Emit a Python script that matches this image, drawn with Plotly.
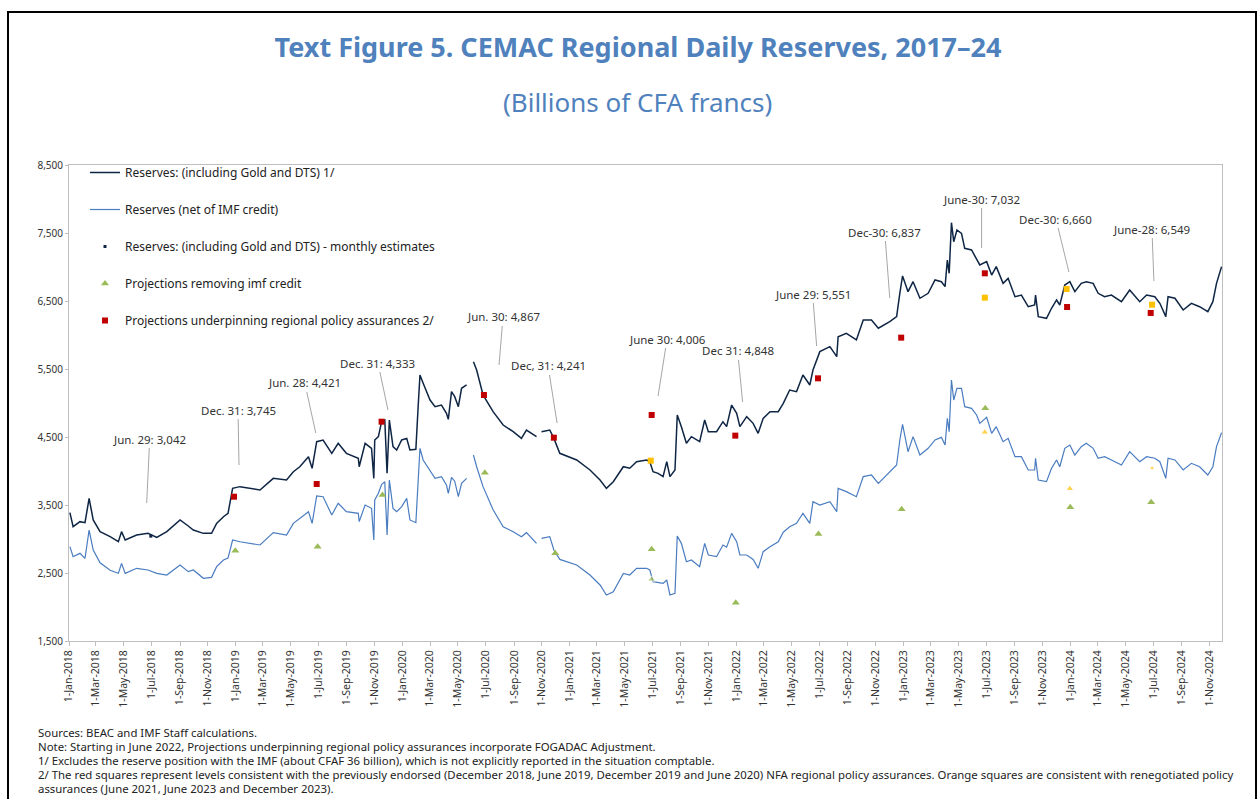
import plotly.graph_objects as go
import pandas as pd

# ---------------- data ----------------
dates = [
    "2018-01-03", "2018-01-10", "2018-01-25", "2018-02-05", "2018-02-14", "2018-02-23",
    "2018-03-10", "2018-04-01", "2018-04-19", "2018-04-26", "2018-05-04", "2018-05-29",
    "2018-06-23", "2018-07-12", "2018-08-03", "2018-09-01", "2018-09-19", "2018-09-30",
    "2018-10-22", "2018-11-09", "2018-11-20", "2018-12-05", "2018-12-15", "2018-12-25",
    "2019-01-10", "2019-02-23", "2019-03-24", "2019-04-22", "2019-05-07", "2019-05-21",
    "2019-06-09", "2019-06-17", "2019-06-27", "2019-07-11", "2019-07-30", "2019-08-13",
    "2019-08-31", "2019-09-26", "2019-09-28", "2019-10-11", "2019-10-25", "2019-10-30",
    "2019-11-01", "2019-11-09", "2019-11-16", "2019-11-23", "2019-11-28", "2019-12-03",
    "2019-12-11", "2019-12-19", "2019-12-30", "2020-01-10", "2020-01-17", "2020-01-30",
    "2020-02-04", "2020-02-08", "2020-02-15", "2020-03-01", "2020-03-12", "2020-03-26",
    "2020-04-06", "2020-04-10", "2020-04-17", "2020-04-24", "2020-05-02", "2020-05-09",
    "2020-05-20", "2020-05-27", "2020-06-04", "2020-06-11", "2020-06-25", "2020-07-17",
    "2020-08-08", "2020-08-30", "2020-09-17", "2020-09-28", "2020-10-20", "2020-10-25",
    "2020-10-31", "2020-11-18", "2020-11-27", "2020-12-10", "2021-01-16", "2021-02-14",
    "2021-03-08", "2021-03-22", "2021-04-06", "2021-04-28", "2021-05-12", "2021-05-27",
    "2021-06-18", "2021-06-25", "2021-07-02", "2021-07-13", "2021-07-24", "2021-08-01",
    "2021-08-08", "2021-08-19", "2021-08-24", "2021-09-02", "2021-09-13", "2021-09-24",
    "2021-10-12", "2021-10-23", "2021-10-31", "2021-11-18", "2021-12-02", "2021-12-10",
    "2021-12-21", "2022-01-01", "2022-01-08", "2022-01-23", "2022-02-06", "2022-02-17",
    "2022-02-28", "2022-03-15", "2022-04-02", "2022-04-13", "2022-04-27", "2022-05-12",
    "2022-05-26", "2022-06-10", "2022-06-17", "2022-07-02", "2022-07-24", "2022-08-08",
    "2022-08-11", "2022-08-29", "2022-09-20", "2022-10-05", "2022-10-23", "2022-11-07",
    "2022-12-02", "2022-12-17", "2022-12-24", "2022-12-30", "2023-01-11", "2023-01-22",
    "2023-02-06", "2023-02-24", "2023-03-11", "2023-03-25", "2023-04-02", "2023-04-07",
    "2023-04-11", "2023-04-16", "2023-04-21", "2023-04-28", "2023-05-08", "2023-05-15",
    "2023-05-30", "2023-06-10", "2023-06-17", "2023-07-02", "2023-07-13", "2023-07-23",
    "2023-08-07", "2023-08-18", "2023-09-02", "2023-09-16", "2023-10-01", "2023-10-15",
    "2023-10-17", "2023-10-23", "2023-11-10", "2023-11-21", "2023-12-02", "2023-12-09",
    "2023-12-20", "2023-12-31", "2024-01-11", "2024-01-25", "2024-02-05", "2024-02-20",
    "2024-03-02", "2024-03-16", "2024-03-31", "2024-04-22", "2024-05-10", "2024-06-01",
    "2024-06-16", "2024-07-04", "2024-07-15", "2024-07-28", "2024-08-02", "2024-08-17",
    "2024-09-04", "2024-09-22", "2024-10-10", "2024-10-28", "2024-11-08", "2024-11-16",
    "2024-11-27",
]

reserves_gross = [
    3387, 3181, 3255, 3240, 3598, 3280,
    3108, 3034, 2960, 3108, 2985, 3059,
    3083, 3024, 3108, 3280, 3191, 3132,
    3083, 3083, 3230, 3328, 3377, 3745,
    3770, 3720, 3892, 3868, 3990, 4063,
    4210, 4040, 4431, 4456, 4260, 4407,
    4260, 4187, 4063, 4407, 4334, 3892,
    4456, 4505, 4725, 4750, 3966, 4750,
    4358, 4309, 4456, 4480, 4309, 4319,
    4946, 5412, 5290, 5044, 4946, 4970,
    4848, 4760, 5167, 5093, 4946, 5216,
    5265, None, 5608, 5485, 5118, 4873,
    4676, 4578, 4480, 4603, 4505, None,
    4578, 4603, 4480, 4260, 4162, 4015,
    3868, 3745, 3843, 4063, 4040, 4137,
    4162, 4137, 3990, 3966, 3917, 4137,
    3917, 4015, 4824, 4652, 4407, 4505,
    4431, 4750, 4578, 4578, 4725, 4652,
    4970, 4848, 4652, 4799, 4701, 4554,
    4774, 4873, 4873, 4995, 5191, 5167,
    5412, 5265, 5485, 5755, 5829, 5681,
    5975, 6025, 5927, 6221, 6221, 6099,
    6196, 6270, 6613, 6868, 6637, 6784,
    6540, 6613, 6809, 6784, 6711, 7103,
    6907, 7652, 7372, 7544, 7495, 7275,
    7250, 7128, 7030, 7079, 6882, 7005,
    6760, 6833, 6563, 6588, 6416, 6441,
    6588, 6270, 6245, 6393, 6515, 6441,
    6735, 6784, 6637, 6760, 6784, 6760,
    6613, 6563, 6588, 6490, 6662, 6490,
    6588, 6563, 6466, 6270, 6563, 6540,
    6368, 6466, 6416, 6343, 6490, 6760,
    7005,
]

reserves_net = [
    2887, 2740, 2789, 2716, 3132, 2838,
    2650, 2540, 2495, 2642, 2495, 2569,
    2544, 2495, 2470, 2618, 2520, 2544,
    2422, 2436, 2593, 2691, 2720, 2985,
    2960, 2912, 3093, 3059, 3230, 3300,
    3402, 3230, 3632, 3622, 3353, 3525,
    3402, 3378, 3255, 3500, 3451, 2985,
    3574, 3672, 3800, 3843, 3059, 3868,
    3451, 3402, 3476, 3598, 3280, 3240,
    3966, 4334, 4162, 4015, 3892, 3917,
    3794, 3672, 3907, 3850, 3622, 3819,
    3892, None, 4235, 4063, 3770, 3430,
    3181, 3108, 3034, 3093, 2936, None,
    3010, 3034, 2838, 2700, 2618, 2471,
    2324, 2177, 2225, 2495, 2471, 2569,
    2569, 2544, 2372, 2360, 2348, 2397,
    2177, 2201, 3044, 2936, 2666, 2691,
    2593, 2936, 2765, 2740, 2912, 2880,
    3083, 2960, 2765, 2765, 2700, 2569,
    2814, 2887, 2960, 3100, 3180, 3230,
    3378, 3230, 3549, 3500, 3549, 3402,
    3745, 3696, 3622, 3917, 3941, 3819,
    3990, 4088, 4456, 4687, 4284, 4505,
    4235, 4334, 4456, 4495, 4382, 4775,
    4578, 5338, 5044, 5216, 5216, 4946,
    4922, 4824, 4701, 4790, 4554, 4652,
    4431, 4480, 4210, 4210, 4015, 4015,
    4187, 3868, 3843, 4040, 4162, 4063,
    4334, 4382, 4235, 4358, 4407, 4334,
    4187, 4210, 4162, 4088, 4284, 4137,
    4210, 4187, 4137, 3892, 4187, 4162,
    4015, 4113, 4063, 3941, 4063, 4358,
    4564,
]

monthly_est_dates = ["2018-06-29"]
monthly_est_values = [3042]

# red squares: previously endorsed regional policy assurances
red_dates = ["2018-12-28", "2019-06-27", "2019-11-16", "2020-06-27", "2020-11-27",
             "2021-06-29", "2021-12-29", "2022-06-28", "2022-12-27", "2023-06-28",
             "2023-12-25", "2024-06-25"]
red_values = [3622, 3809, 4725, 5118, 4490, 4824, 4520, 5363, 5961, 6907, 6412, 6324]

# orange squares: renegotiated policy assurances
orange_dates = ["2021-06-27", "2023-06-28", "2023-12-24", "2024-06-28"]
orange_values = [4152, 6549, 6676, 6446]

# green triangles: projections removing IMF credit
green_dates = ["2018-12-31", "2019-06-29", "2019-11-18", "2020-06-29", "2020-11-30",
               "2021-06-29", "2021-12-30", "2022-06-29", "2022-12-28", "2023-06-29",
               "2024-01-01", "2024-06-26"]
green_values = [2828, 2887, 3647, 3975, 2789, 2848, 2063, 3074, 3437, 4922, 3466, 3540]

# second set of triangles (renegotiated, net of IMF credit)
tri2_dates = ["2021-06-29", "2023-06-28", "2023-12-31", "2024-06-28"]
tri2_values = [2407, 4569, 3740, 4044]
tri2_colors = ["#9bbb59", "#ffc000", "#ffc000", "#ffc000"]
tri2_sizes = [7, 7, 7, 5]

# labelled points: text, date of arrow tip, value of arrow tip, text offset (px)
label_texts = ["Jun. 29: 3,042", "Dec. 31: 3,745", "Jun. 28: 4,421", "Dec. 31: 4,333",
               "Jun. 30: 4,867", "Dec, 31: 4,241", "June 30: 4,006", "Dec 31: 4,848",
               "June 29: 5,551", "Dec-30: 6,837", "June-30: 7,032", "Dec-30: 6,660",
               "June-28: 6,549"]
label_dates = ["2018-06-20", "2019-01-08", "2019-06-25", "2019-11-30", "2020-07-30",
               "2020-12-04", "2021-07-13", "2022-01-14", "2022-06-25", "2022-12-02",
               "2023-06-21", "2023-12-29", "2024-07-02"]
label_values = [3529, 4088, 4559, 4897, 5559, 4706, 5103, 5015, 5838, 6544, 7279, 6926, 6794]
label_dx = [3, -1, -11, -10, 4, -9, 9, -5, -4, -5, 0, -13, -2]
label_dy = [-64, -55, -50, -47, -48, -57, -57, -51, -52, -66, -49, -53, -52]

tick_dates = list(pd.date_range("2018-01-01", "2024-11-01", freq="2MS"))
tick_labels = [f"{d.day}-{d.strftime('%b-%Y')}" for d in tick_dates]
y_ticks = [1500, 2500, 3500, 4500, 5500, 6500, 7500, 8500]

footnotes = [
    "Sources: BEAC and IMF Staff calculations.",
    "Note: Starting in June 2022, Projections underpinning regional policy assurances incorporate FOGADAC Adjustment.",
    "1/ Excludes the reserve position with the IMF (about CFAF 36 billion), which is not explicitly reported in the situation comptable.",
    "2/ The red squares represent levels consistent with the previously endorsed (December 2018, June 2019, December 2019 and June 2020) NFA regional policy assurances. Orange squares are consistent with renegotiated policy",
    "assurances (June 2021, June 2023 and December 2023).",
]

# ---------------- figure ----------------
FONT = "Noto Sans"
NAVY = "#0e2544"
BLUE = "#4a7cc0"
RED = "#c00000"
ORANGE = "#ffc000"
GREEN = "#9bbb59"

fig = go.Figure()
fig.add_trace(go.Scatter(x=dates, y=reserves_gross, mode="lines",
                         line=dict(color=NAVY, width=1.5),
                         name="Reserves: (including Gold and DTS) 1/", legendgroup="a"))
fig.add_trace(go.Scatter(x=dates, y=reserves_net, mode="lines",
                         line=dict(color=BLUE, width=1.2),
                         name="Reserves (net of IMF credit)", legendgroup="b"))
fig.add_trace(go.Scatter(x=monthly_est_dates, y=monthly_est_values, mode="markers",
                         marker=dict(color=NAVY, size=3, symbol="square"),
                         name="Reserves: (including Gold and DTS) - monthly estimates",
                         legendgroup="c"))
fig.add_trace(go.Scatter(x=green_dates, y=green_values, mode="markers",
                         marker=dict(color=GREEN, size=7, symbol="triangle-up"),
                         name="Projections removing imf credit", legendgroup="d"))
fig.add_trace(go.Scatter(x=red_dates, y=red_values, mode="markers",
                         marker=dict(color=RED, size=6, symbol="square"),
                         name="Projections underpinning regional policy assurances 2/",
                         legendgroup="e"))
fig.add_trace(go.Scatter(x=orange_dates, y=orange_values, mode="markers",
                         marker=dict(color=ORANGE, size=6, symbol="square"),
                         name="Renegotiated policy assurances", showlegend=False))
fig.add_trace(go.Scatter(x=tri2_dates, y=tri2_values, mode="markers",
                         marker=dict(color=tri2_colors, size=tri2_sizes, symbol="triangle-up"),
                         name="Renegotiated projections (net of IMF credit)", showlegend=False))

annotations = []
for t, d, v, dx, dy in zip(label_texts, label_dates, label_values, label_dx, label_dy):
    annotations.append(dict(x=d, y=v, xref="x", yref="y", text=t, showarrow=True,
                            arrowhead=0, arrowwidth=1, arrowcolor="#a6a6a6",
                            ax=dx, ay=dy, font=dict(family=FONT, size=11.5, color="#333333")))

annotations.append(dict(text="(Billions of CFA francs)", xref="paper", yref="paper",
                        x=(637 - 69) / 1153, y=(641 - 102) / 476, showarrow=False,
                        xanchor="center", yanchor="middle",
                        font=dict(family=FONT, size=26, color="#4f81bd")))

foot_y = [732, 746, 760, 774, 788]
for line, py in zip(footnotes, foot_y):
    annotations.append(dict(text=line, xref="paper", yref="paper",
                            x=(36 - 69) / 1153, y=(641 - py) / 476,
                            xanchor="left", yanchor="middle", showarrow=False,
                            font=dict(family=FONT, size=11.4, color="#222222")))

fig.update_layout(
    width=1257, height=799,
    margin=dict(l=69, r=35, t=165, b=158),
    paper_bgcolor="white", plot_bgcolor="white",
    title=dict(text="<b>Text Figure 5. CEMAC Regional Daily Reserves, 2017–24</b>",
               x=638 / 1257, xanchor="center", y=1 - 48 / 799, yanchor="middle",
               font=dict(family=FONT, size=27, color="#4f81bd")),
    font=dict(family=FONT, color="#333333"),
    showlegend=True,
    legend=dict(x=(85 - 69) / 1153, y=1.0147, xanchor="left", yanchor="top",
                bgcolor="rgba(0,0,0,0)", tracegroupgap=18, itemwidth=30,
                font=dict(family=FONT, size=12, color="#222222")),
    annotations=annotations,
    shapes=[dict(type="rect", xref="paper", yref="paper",
                 x0=(8 - 69) / 1153, x1=(1256 - 69) / 1153,
                 y0=(641 - 830) / 476, y1=(641 - 12) / 476,
                 line=dict(color="black", width=2), fillcolor="rgba(0,0,0,0)", layer="below")],
)

fig.update_xaxes(type="date", range=["2018-01-01", "2024-11-28"],
                 tickvals=tick_dates, ticktext=tick_labels, tickangle=-90,
                 ticks="outside", ticklen=4, tickcolor="#bfbfbf",
                 showline=True, linecolor="#bfbfbf", linewidth=1, mirror=True,
                 showgrid=False, zeroline=False,
                 tickfont=dict(family=FONT, size=10.5, color="#333333"))
fig.update_yaxes(range=[1500, 8500], tickvals=y_ticks, tickformat=",",
                 ticks="outside", ticklen=3, tickcolor="#bfbfbf",
                 showline=True, linecolor="#bfbfbf", linewidth=1, mirror=True,
                 showgrid=False, zeroline=False,
                 tickfont=dict(family=FONT, size=10, color="#333333"))

fig.write_html("out.html", config={"displayModeBar": False},
               post_script="document.body.style.margin='0';")
